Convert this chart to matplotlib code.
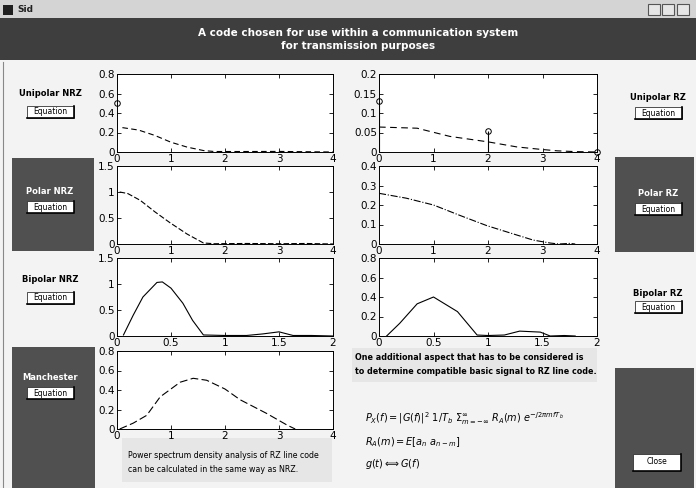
import matplotlib.pyplot as plt
from matplotlib.patches import Rectangle

# power spectral densities (f in units of 1/Tb)
uni_nrz_f = [0.1, 0.4, 0.7, 1.0, 1.3, 1.6, 1.8, 2.4, 3.0, 3.3, 4.0]
uni_nrz_s = [0.25, 0.225, 0.17, 0.10, 0.05, 0.015, 0.005, 0.005, 0.006, 0.004, 0.0]
uni_nrz_dc_f = [0]
uni_nrz_dc_s = [0.5]

polar_nrz_f = [0.05, 0.2, 0.43, 0.7, 0.98, 1.3, 1.6, 1.8, 2.4, 3.0, 3.5, 4.0]
polar_nrz_s = [1.0, 0.97, 0.84, 0.62, 0.41, 0.19, 0.02, 0.005, 0.01, 0.005, 0.01, 0.0]

bip_nrz_f = [0.06, 0.15, 0.24, 0.37, 0.42, 0.5, 0.61, 0.7, 0.8, 1.0, 1.2, 1.35, 1.5, 1.63, 1.8, 2.0]
bip_nrz_s = [0.02, 0.4, 0.75, 1.03, 1.04, 0.92, 0.63, 0.3, 0.02, 0.01, 0.01, 0.04, 0.08, 0.01, 0.01, 0.0]

manch_f = [0.05, 0.3, 0.55, 0.8, 1.17, 1.41, 1.66, 2.0, 2.28, 2.77, 3.15, 3.3]
manch_s = [0.0, 0.06, 0.14, 0.33, 0.48, 0.52, 0.50, 0.41, 0.30, 0.16, 0.04, 0.0]

uni_rz_f = [0, 0.7, 1.3, 2.0, 2.53, 2.95, 3.27, 3.6, 4.0]
uni_rz_s = [0.064, 0.061, 0.04, 0.026, 0.013, 0.007, 0.003, 0.001, 0.0]
uni_rz_dc_f = [0, 2, 4]
uni_rz_dc_s = [0.13, 0.054, 0.0]

polar_rz_f = [0, 0.5, 1.0, 1.49, 1.98, 2.46, 2.83, 3.14, 3.3, 3.5, 3.6]
polar_rz_s = [0.26, 0.235, 0.20, 0.146, 0.094, 0.052, 0.02, 0.005, 0.0, 0.003, 0.0]

bip_rz_f = [0.07, 0.19, 0.35, 0.5, 0.72, 0.9, 1.0, 1.15, 1.29, 1.48, 1.57, 1.7, 1.8]
bip_rz_s = [0.0, 0.13, 0.33, 0.40, 0.25, 0.01, 0.005, 0.01, 0.05, 0.04, 0.0, 0.005, 0.0]

x4_ticks = [0, 1, 2, 3, 4]
x4_labels = ["0", "1", "2", "3", "4"]
x2_ticks = [0, 0.5, 1, 1.5, 2]
x2_labels = ["0", "0.5", "1", "1.5", "2"]

W, H = 696, 488
DARK = "#505050"
BANNER = "#3e3e3e"
BG = "#f3f3f3"

fig = plt.figure(figsize=(W / 100, H / 100), dpi=100)
fig.patch.set_facecolor(BG)

# background canvas in pixel coordinates
bg = fig.add_axes([0, 0, 1, 1])
bg.set_xlim(0, W)
bg.set_ylim(H, 0)
bg.axis("off")


def box(x, y, w, h, fc, ec="none", lw=0):
    bg.add_patch(Rectangle((x, y), w, h, facecolor=fc, edgecolor=ec, linewidth=lw))


# window title bar and banner
box(0, 0, W, 18, "#d4d4d4")
box(3, 5, 10, 10, "#202020")
bg.text(17, 10, "Sid", fontsize=6.5, fontweight="bold", va="center", color="#202020")
for bx in (648, 662, 677):
    box(bx, 4, 12, 11, "#e6e6e6", ec="#555555", lw=0.8)
box(0, 18, W, 42, BANNER)
bg.text(W / 2 + 10, 33, "A code chosen for use within a communication system",
        fontsize=7.5, fontweight="bold", color="white", ha="center", va="center")
bg.text(W / 2 + 10, 46, "for transmission purposes", fontsize=7.5, fontweight="bold",
        color="white", ha="center", va="center")
bg.plot([3, 3], [62, H], color="#888888", lw=0.8)

# side panels
box(12, 158, 82, 93, DARK)
box(12, 347, 83, 141, DARK)
box(615, 157, 79, 95, DARK)
box(615, 368, 79, 120, DARK)


def button(cx, cy, w, h, text):
    box(cx - w / 2, cy - h / 2, w, h, "white", ec="#333333", lw=0.6)
    bg.plot([cx + w / 2, cx + w / 2, cx - w / 2], [cy - h / 2, cy + h / 2, cy + h / 2],
            color="black", lw=1.2)
    bg.text(cx, cy, text, fontsize=5.5, ha="center", va="center", color="black")


labels = [
    (50, 93, "Unipolar NRZ", "black", 112),
    (50, 192, "Polar NRZ", "white", 207),
    (50, 280, "Bipolar NRZ", "black", 298),
    (50, 377, "Manchester", "white", 393),
    (658, 98, "Unipolar RZ", "black", 113),
    (658, 193, "Polar RZ", "white", 209),
    (658, 293, "Bipolar RZ", "black", 307),
]
for cx, cy, name, col, by in labels:
    bg.text(cx, cy, name, fontsize=6, fontweight="bold", color=col,
            ha="center", va="center")
    button(cx, by, 47, 12, "Equation")

button(657, 462, 48, 17, "Close")

# explanatory text blocks
box(122, 438, 210, 44, "#e6e6e6")
bg.text(128, 455, "Power spectrum density analysis of RZ line code",
        fontsize=5.7, va="center")
bg.text(128, 470, "can be calculated in the same way as NRZ.",
        fontsize=5.7, va="center")
box(352, 348, 245, 34, "#e6e6e6")
bg.text(355, 357, "One additional aspect that has to be considered is",
        fontsize=5.8, fontweight="bold", va="center")
bg.text(355, 372, "to determine compatible basic signal to RZ line code.",
        fontsize=5.8, fontweight="bold", va="center")
bg.text(365, 419, r"$P_X(f) = |G(f)|^2\ 1/T_b\ \Sigma_{m=-\infty}^{\infty}\ R_A(m)\ e^{-j2\pi mfT_b}$",
        fontsize=7, va="center")
bg.text(365, 442, r"$R_A(m) = E[a_n\ a_{n-m}]$", fontsize=7, va="center")
bg.text(365, 464, r"$g(t) \Longleftrightarrow G(f)$", fontsize=7, va="center")


def make_axes(px, py, pw, ph):
    ax = fig.add_axes([px / W, 1 - (py + ph) / H, pw / W, ph / H])
    ax.set_facecolor("white")
    ax.tick_params(direction="in", length=3, width=0.6, labelsize=7.5,
                   top=True, right=True, pad=1.5)
    for s in ax.spines.values():
        s.set_linewidth(0.7)
    return ax


def setup(ax, xmax, xt, xl, ymax, yt, yl):
    ax.set_xlim(0, xmax)
    ax.set_ylim(0, ymax)
    ax.set_xticks(xt)
    ax.set_xticklabels(xl)
    ax.set_yticks(yt)
    ax.set_yticklabels(yl)


LX, RX, AW = 117, 379, 216
rows = [74, 166, 258, 351]
AH = 78

ax1 = make_axes(LX, rows[0], AW, AH)
ax1.plot(uni_nrz_f, uni_nrz_s, "k--", lw=0.8, dashes=(5, 3))
ax1.plot(uni_nrz_dc_f, uni_nrz_dc_s, "o", mfc="none", mec="k", ms=4, mew=0.7, clip_on=False)
setup(ax1, 4, x4_ticks, x4_labels, 0.8, [0, 0.2, 0.4, 0.6, 0.8], ["0", "0.2", "0.4", "0.6", "0.8"])

ax2 = make_axes(LX, rows[1], AW, AH)
ax2.plot(polar_nrz_f, polar_nrz_s, "k--", lw=0.8, dashes=(5, 2))
setup(ax2, 4, x4_ticks, x4_labels, 1.5, [0, 0.5, 1, 1.5], ["0", "0.5", "1", "1.5"])

ax3 = make_axes(LX, rows[2], AW, AH)
ax3.plot(bip_nrz_f, bip_nrz_s, "k-", lw=0.8)
setup(ax3, 2, x2_ticks, x2_labels, 1.5, [0, 0.5, 1, 1.5], ["0", "0.5", "1", "1.5"])

ax4 = make_axes(LX, rows[3], AW, AH)
ax4.plot(manch_f, manch_s, "k--", lw=0.8, dashes=(7, 3))
setup(ax4, 4, x4_ticks, x4_labels, 0.8, [0, 0.2, 0.4, 0.6, 0.8], ["0", "0.2", "0.4", "0.6", "0.8"])

ax5 = make_axes(RX, rows[0], AW + 2, AH)
ax5.plot(uni_rz_f, uni_rz_s, "k--", lw=0.8, dashes=(6, 4))
ax5.vlines(uni_rz_dc_f, 0, uni_rz_dc_s, colors="k", lw=0.8)
ax5.plot(uni_rz_dc_f, uni_rz_dc_s, "o", mfc="none", mec="k", ms=4, mew=0.7, clip_on=False)
setup(ax5, 4, x4_ticks, x4_labels, 0.2, [0, 0.05, 0.1, 0.15, 0.2],
      ["0", "0.05", "0.1", "0.15", "0.2"])

ax6 = make_axes(RX, rows[1], AW + 2, AH)
ax6.plot(polar_rz_f, polar_rz_s, "k-.", lw=0.8)
setup(ax6, 4, x4_ticks, x4_labels, 0.4, [0, 0.1, 0.2, 0.3, 0.4],
      ["0", "0.1", "0.2", "0.3", "0.4"])

ax7 = make_axes(RX, rows[2], AW + 2, AH)
ax7.plot(bip_rz_f, bip_rz_s, "k-", lw=0.8)
setup(ax7, 2, x2_ticks, x2_labels, 0.8, [0, 0.2, 0.4, 0.6, 0.8],
      ["0", "0.2", "0.4", "0.6", "0.8"])

fig.savefig("out.png", dpi=100, facecolor=fig.get_facecolor())
